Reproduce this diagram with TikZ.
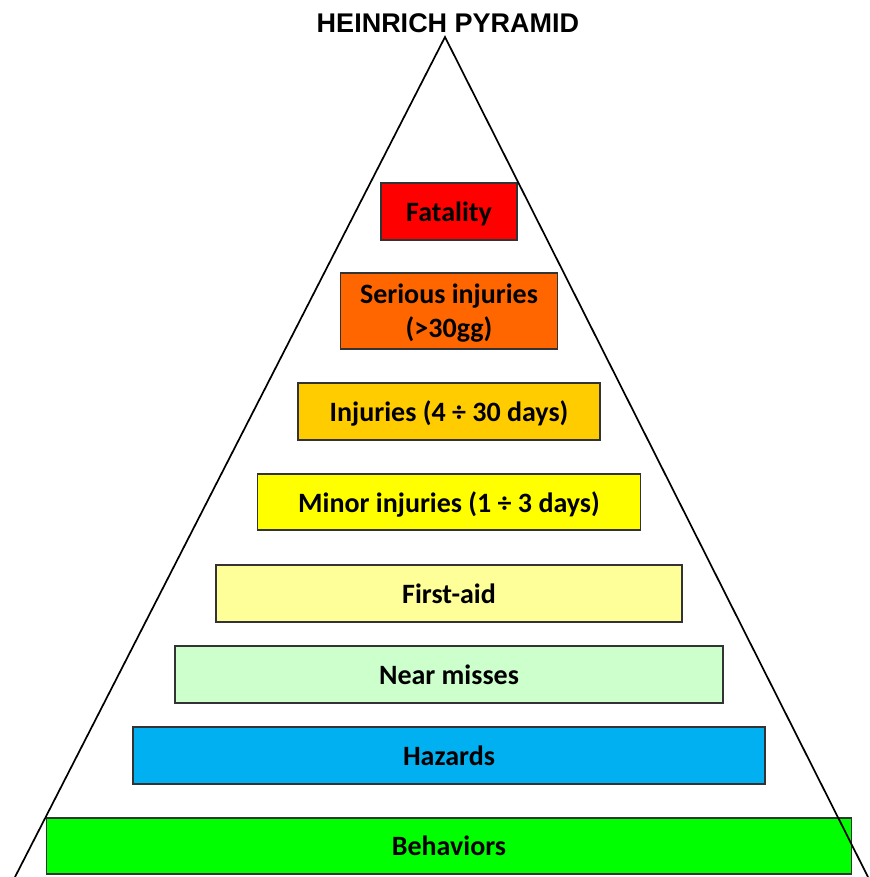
\documentclass[tikz,border=0pt]{standalone}
\usepackage{fontspec}
\setmainfont{Carlito}
\newfontfamily\headfont{Liberation Sans}
\usetikzlibrary{positioning}
\definecolor{levFatal}{HTML}{FF0000}
\definecolor{levSerious}{HTML}{FF6600}
\definecolor{levInjury}{HTML}{FFCC00}
\definecolor{levMinor}{HTML}{FFFF00}
\definecolor{levFirstAid}{HTML}{FFFF99}
\definecolor{levNearMiss}{HTML}{CCFFCC}
\definecolor{levHazard}{HTML}{00B0F0}
\definecolor{levBehavior}{HTML}{00FF00}
\colorlet{levRule}{black!80}
\tikzset{
  level/.style={draw=levRule, line width=1.2pt, outer sep=0pt, inner sep=0pt,
    minimum height=57pt, align=center, text depth=0pt,
    font=\fontsize{28}{34}\selectfont\bfseries},
  side/.style={line width=1.7pt, black}
}
\begin{document}
\begin{tikzpicture}[x=1pt, y=-1pt]
  \useasboundingbox (0,0) rectangle (869,877);

  \node[font=\headfont\fontsize{27}{30}\selectfont\bfseries] (title)
    at (448,23) {HEINRICH PYRAMID};

  \node[level, fill=levFatal, minimum width=136pt] (fat) at (449,211.5) {Fatality};
  \node[level, fill=levSerious, minimum width=217pt, minimum height=76pt,
        below=33pt of fat] (ser) {Serious injuries\\(>30gg)};
  \node[level, fill=levInjury, minimum width=302pt,
        below=34pt of ser] (inj) {Injuries (4 ÷ 30 days)};
  \node[level, fill=levMinor, minimum width=383pt, minimum height=56pt,
        below=34pt of inj] (minor) {Minor injuries (1 ÷ 3 days)};
  \node[level, fill=levFirstAid, minimum width=466pt,
        below=35pt of minor] (aid) {First-aid};
  \node[level, fill=levNearMiss, minimum width=548pt,
        below=24pt of aid] (near) {Near misses};
  \node[level, fill=levHazard, minimum width=632pt,
        below=24pt of near] (haz) {Hazards};
  \node[level, fill=levBehavior, minimum width=805pt, minimum height=56pt,
        below=34pt of haz] (beh) {Behaviors};

  % pyramid sides
  \coordinate (apex) at (445,37);
  \coordinate (baseL) at (15,877);
  \coordinate (baseR) at (868,877);
  \draw[side] (baseL) -- (apex) -- (baseR);
\end{tikzpicture}
\end{document}
